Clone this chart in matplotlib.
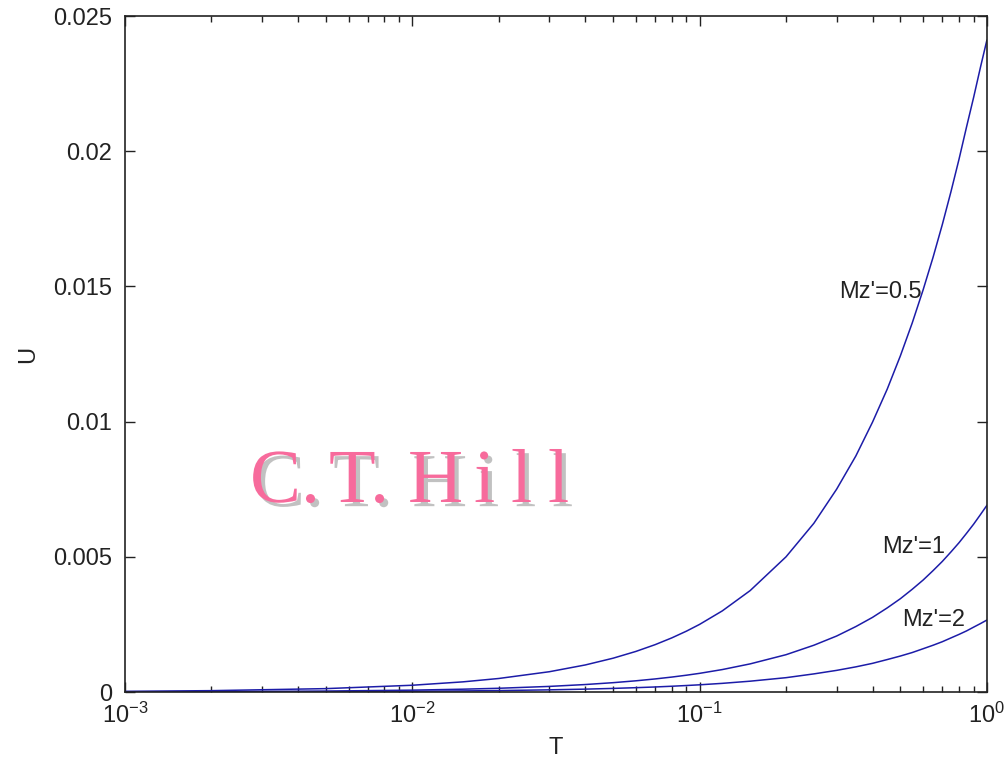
# U against T on a log axis, three Mz' cases, with the C. T. Hill watermark
import matplotlib
matplotlib.use("Agg")
import matplotlib.pyplot as plt
import matplotlib.patheffects as pe
from matplotlib.ticker import LogLocator

plt.rcParams['font.family'] = ['Liberation Sans', 'DejaVu Sans']
plt.rcParams['mathtext.fontset'] = 'custom'
plt.rcParams['mathtext.rm'] = 'Liberation Sans'
plt.rcParams['mathtext.it'] = 'Liberation Sans'
plt.rcParams['mathtext.default'] = 'regular'

# values
T = [0.001, 0.002, 0.005, 0.01, 0.015, 0.02, 0.03, 0.04, 0.05, 0.06, 0.07, 0.08, 0.09,
     0.1, 0.12, 0.15, 0.2, 0.25, 0.3, 0.35, 0.4, 0.45, 0.5, 0.55, 0.6, 0.65, 0.7,
     0.75, 0.8, 0.85, 0.9, 0.95, 1.0]
U_mz05 = [0.000025, 0.00005, 0.000125, 0.00025, 0.000375, 0.0005, 0.00075, 0.001,
          0.00125, 0.0015, 0.00175, 0.002, 0.00225, 0.0025, 0.003, 0.00375, 0.005,
          0.00624, 0.0075, 0.00873, 0.00998, 0.0112, 0.01243, 0.01365, 0.01487,
          0.01608, 0.01729, 0.0185, 0.0197, 0.0209, 0.022, 0.0231, 0.0241]
U_mz1 = [0.0000069, 0.0000138, 0.0000345, 0.000069, 0.000104, 0.000138, 0.000207,
         0.000276, 0.000345, 0.000414, 0.000483, 0.000552, 0.000621, 0.00069, 0.00083,
         0.00104, 0.00138, 0.00173, 0.00207, 0.00242, 0.00276, 0.00311, 0.00345,
         0.0038, 0.00414, 0.00449, 0.00483, 0.00518, 0.00552, 0.00587, 0.00621,
         0.00656, 0.0069]
U_mz2 = [0.0000027, 0.0000053, 0.000013, 0.000027, 0.00004, 0.000053, 0.00008,
         0.000106, 0.000133, 0.00016, 0.000186, 0.000213, 0.00024, 0.000266, 0.00032,
         0.0004, 0.00053, 0.00067, 0.0008, 0.00093, 0.00106, 0.0012, 0.00133,
         0.00146, 0.0016, 0.00173, 0.00186, 0.002, 0.00213, 0.00226, 0.0024,
         0.00253, 0.00266]
labels = ["Mz'=0.5", "Mz'=1", "Mz'=2"]
label_pos = [(0.595, 0.0148), (0.714, 0.00536), (0.838, 0.00266)]

# watermark pieces, spaced out like the original
wm_parts = ['C.', 'T.', 'H', 'i', 'l', 'l']
wm_x = [250, 329, 408, 474, 511, 548]   # pixel left edges

fig = plt.figure(figsize=(10.08, 7.66), dpi=100)
ax = fig.add_axes([0.124, 0.0966, 0.855, 0.8825])

line_col = '#1c1ca8'
for u in (U_mz05, U_mz1, U_mz2):
    ax.plot(T, u, color=line_col, linewidth=1.1)

for lab, (tx, uy) in zip(labels, label_pos):
    ax.text(tx, uy, lab, fontsize=17, ha='right', va='center', color='#222222')

ax.set_xscale('log')
ax.set_xlim(1e-3, 1)
ax.set_ylim(0, 0.025)
ax.set_yticks([0, 0.005, 0.01, 0.015, 0.02, 0.025])
ax.set_yticklabels(['0', '0.005', '0.01', '0.015', '0.02', '0.025'])
ax.xaxis.set_minor_locator(LogLocator(base=10, subs=range(2, 10)))

ax.tick_params(which='both', direction='in', top=True, right=True,
               labelsize=17, colors='#222222')
ax.tick_params(which='major', length=7, width=1)
ax.tick_params(which='minor', length=4, width=1)
ax.tick_params(axis='y', pad=9)
ax.tick_params(axis='x', pad=8)
for s in ax.spines.values():
    s.set_color('#222222')
    s.set_linewidth(1.2)

ax.set_xlabel('T', fontsize=17, labelpad=6, color='#222222')
ax.set_ylabel('U', fontsize=17, labelpad=10, color='#222222')

# watermark
shadow = [pe.SimplePatchShadow(offset=(3, -3), shadow_rgbFace='#999999', alpha=0.6), pe.Normal()]
for part, px in zip(wm_parts, wm_x):
    fig.text(px / 1008, 1 - 502 / 766, part, fontsize=55,
             family=['Liberation Serif', 'DejaVu Serif'],
             color='#f76b9c', ha='left', va='baseline', path_effects=shadow)

fig.savefig('out.png', dpi=100)
